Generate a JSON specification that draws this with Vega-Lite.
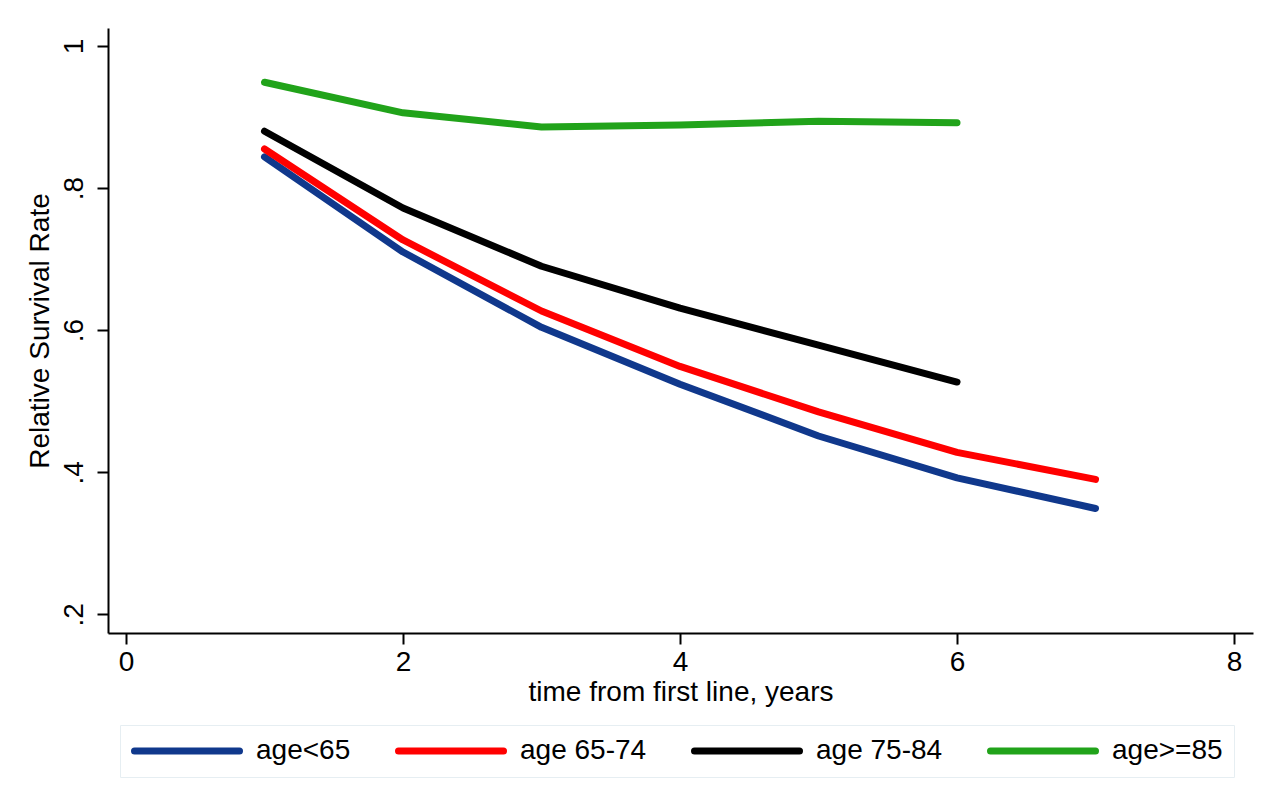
{
  "$schema": "https://vega.github.io/schema/vega-lite/v6.json",
  "width": 1145,
  "height": 605,
  "autosize": {"type": "none"},
  "padding": {"left": 108, "top": 28, "right": 27, "bottom": 169},
  "background": "white",
  "config": {
    "view": {"stroke": null},
    "font": "Liberation Sans",
    "axis": {
      "grid": false,
      "domainColor": "black",
      "domainWidth": 2,
      "tickColor": "black",
      "tickWidth": 2,
      "tickSize": 11,
      "labelFont": "Liberation Sans",
      "labelFontSize": 28,
      "labelColor": "black",
      "titleFont": "Liberation Sans",
      "titleFontSize": 28,
      "titleFontWeight": "normal",
      "titleColor": "black"
    }
  },
  "data": {
    "values": [
      {"year": 1, "rate": 0.844, "group": "age<65"},
      {"year": 2, "rate": 0.710, "group": "age<65"},
      {"year": 3, "rate": 0.604, "group": "age<65"},
      {"year": 4, "rate": 0.524, "group": "age<65"},
      {"year": 5, "rate": 0.451, "group": "age<65"},
      {"year": 6, "rate": 0.392, "group": "age<65"},
      {"year": 7, "rate": 0.349, "group": "age<65"},
      {"year": 1, "rate": 0.855, "group": "age 65-74"},
      {"year": 2, "rate": 0.727, "group": "age 65-74"},
      {"year": 3, "rate": 0.627, "group": "age 65-74"},
      {"year": 4, "rate": 0.549, "group": "age 65-74"},
      {"year": 5, "rate": 0.485, "group": "age 65-74"},
      {"year": 6, "rate": 0.428, "group": "age 65-74"},
      {"year": 7, "rate": 0.390, "group": "age 65-74"},
      {"year": 1, "rate": 0.880, "group": "age 75-84"},
      {"year": 2, "rate": 0.772, "group": "age 75-84"},
      {"year": 3, "rate": 0.690, "group": "age 75-84"},
      {"year": 4, "rate": 0.631, "group": "age 75-84"},
      {"year": 5, "rate": 0.579, "group": "age 75-84"},
      {"year": 6, "rate": 0.527, "group": "age 75-84"},
      {"year": 1, "rate": 0.949, "group": "age>=85"},
      {"year": 2, "rate": 0.906, "group": "age>=85"},
      {"year": 3, "rate": 0.886, "group": "age>=85"},
      {"year": 4, "rate": 0.889, "group": "age>=85"},
      {"year": 5, "rate": 0.894, "group": "age>=85"},
      {"year": 6, "rate": 0.892, "group": "age>=85"}
    ]
  },
  "mark": {"type": "line", "strokeWidth": 7, "strokeCap": "round", "strokeJoin": "round"},
  "encoding": {
    "x": {
      "field": "year",
      "type": "quantitative",
      "scale": {"domain": [-0.13, 8.137], "nice": false, "zero": false},
      "axis": {
        "values": [0, 2, 4, 6, 8],
        "title": "time from first line, years",
        "labelPadding": 4,
        "titlePadding": 2
      }
    },
    "y": {
      "field": "rate",
      "type": "quantitative",
      "scale": {"domain": [0.1737, 1.0254], "nice": false, "zero": false},
      "axis": {
        "values": [0.2, 0.4, 0.6, 0.8, 1],
        "labelExpr": "datum.value >= 1 ? '1' : '.' + format(datum.value * 10, 'd')",
        "labelAngle": -90,
        "labelAlign": "center",
        "labelBaseline": "bottom",
        "labelPadding": 9,
        "title": "Relative Survival Rate",
        "titlePadding": 6
      }
    },
    "color": {
      "field": "group",
      "type": "nominal",
      "scale": {
        "domain": ["age<65", "age 65-74", "age 75-84", "age>=85"],
        "range": ["#10388c", "#ff0000", "#000000", "#21a31a"]
      },
      "legend": {
        "title": null,
        "orient": "none",
        "direction": "horizontal",
        "legendX": 12,
        "legendY": 697,
        "symbolType": "stroke",
        "symbolSize": 11025,
        "symbolStrokeWidth": 7,
        "clipHeight": 30,
        "labelFont": "Liberation Sans",
        "labelFontSize": 28,
        "labelColor": "black",
        "labelOffset": 13,
        "columnPadding": 44,
        "padding": 11,
        "strokeColor": "#e6eef2",
        "fillColor": "white",
        "symbolOpacity": 1,
        "encode": {
          "symbols": {"update": {"strokeCap": {"value": "round"}}}
        }
      }
    }
  }
}
